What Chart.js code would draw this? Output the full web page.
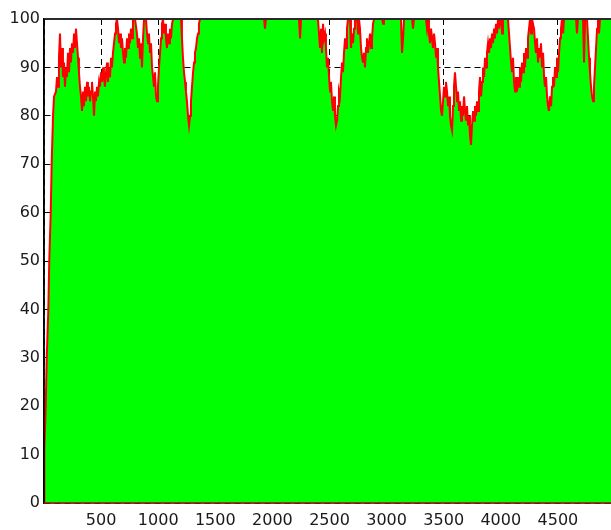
<!DOCTYPE html>
<html>
<head>
<meta charset="utf-8">
<script src="https://cdn.jsdelivr.net/npm/chart.js@4/dist/chart.umd.min.js"></script>
<style>
  html, body { margin: 0; padding: 0; background: #fff; }
  #wrap { position: relative; width: 611px; height: 530px; }
</style>
</head>
<body>
<div id="wrap"><canvas id="levelChart"></canvas></div>
<script>
// sample index (x) and level (y)
var sampleX = [
  0, 3, 15, 24, 38, 46, 59, 67, 79, 88, 105, 114, 123, 131, 140, 149, 158, 166, 175, 184,
  193, 201, 210, 219, 228, 236, 245, 254, 263, 271, 280, 289, 298, 306, 315, 324, 333, 342, 350, 359,
  368, 377, 385, 394, 403, 412, 420, 429, 438, 447, 455, 464, 473, 482, 490, 499, 508, 517, 525, 534,
  543, 552, 560, 569, 578, 587, 595, 604, 613, 622, 630, 639, 648, 657, 666, 674, 683, 692, 701, 709,
  718, 727, 736, 744, 753, 762, 771, 779, 797, 814, 823, 832, 841, 849, 858, 867, 876, 893, 902, 911,
  919, 928, 937, 946, 955, 963, 972, 981, 990, 998, 1007, 1016, 1025, 1033, 1042, 1051, 1060, 1068, 1077, 1086,
  1095, 1103, 1112, 1121, 1130,
  1200, 1208, 1217, 1226, 1235, 1243, 1252, 1261, 1270, 1279, 1287, 1296, 1305, 1314, 1322, 1331, 1340, 1349, 1357, 1366,
  1927, 1935, 1944,
  2233, 2242, 2251,
  2399, 2417, 2426, 2434, 2443, 2452, 2461, 2469, 2478, 2487, 2496, 2505, 2513, 2522, 2531, 2540, 2548, 2557, 2566, 2575,
  2583, 2592, 2601, 2610, 2618, 2627, 2636, 2645, 2653, 2662, 2680, 2688, 2697, 2706, 2715, 2723, 2741, 2750, 2758, 2767,
  2776, 2785, 2793, 2802, 2811, 2820, 2828, 2837, 2846, 2855, 2864, 2872, 2881, 2890,
  2960, 2969, 2977,
  3126, 3135, 3144, 3153,
  3223, 3231, 3240,
  3345, 3354, 3363, 3371, 3380, 3389, 3398, 3406, 3415, 3424, 3433, 3442, 3450, 3459, 3468, 3477, 3485, 3494, 3503, 3512,
  3520, 3529, 3538, 3547, 3555, 3564, 3573, 3582, 3590, 3599, 3608, 3617, 3625, 3634, 3643, 3652, 3660, 3669, 3678, 3687,
  3695, 3704, 3713, 3722, 3730, 3739, 3748, 3757, 3766, 3774, 3783, 3792, 3801, 3809, 3818, 3827, 3836, 3844, 3853, 3862,
  3871, 3879, 3888, 3897, 3906, 3914, 3923, 3932, 3941, 3949, 3958, 3967, 3976, 3984, 3993,
  4002, 4011, 4019, 4063, 4072, 4081, 4090, 4098, 4107, 4116, 4125, 4133, 4142, 4151, 4160, 4168, 4177, 4186, 4195, 4203,
  4212, 4221, 4230, 4238, 4247, 4256, 4265, 4273, 4291, 4300, 4308, 4317, 4326, 4335, 4343, 4352, 4361, 4370, 4379, 4387,
  4396, 4405, 4414, 4422, 4431, 4440, 4449, 4457, 4466, 4475, 4484, 4492, 4501, 4510, 4519, 4527, 4536, 4545, 4554,
  4659, 4667, 4676, 4720, 4729, 4738, 4755, 4764, 4773, 4781, 4790, 4799, 4808, 4816, 4825, 4834, 4843, 4851, 4860, 4869,
  4965
];
var level = [
  0, 11, 20, 30, 40, 50, 60, 70, 80, 84, 85, 88, 86, 92, 97, 90, 94, 88, 91, 86,
  90, 88, 93, 89, 94, 91, 95, 93, 97, 94, 98, 95, 92, 89, 86, 84, 81, 85, 82, 86,
  83, 87, 84, 86, 83, 85, 87, 84, 80, 85, 83, 86, 84, 87, 86, 89, 87, 90, 88, 86,
  89, 91, 87, 90, 88, 92, 90, 93, 95, 97, 99, 100, 98, 95, 97, 94, 96, 93, 91, 94,
  92, 96, 94, 97, 95, 98, 96, 100, 100, 97, 94, 96, 92, 95, 90, 96, 100, 100, 97, 95,
  97, 93, 95, 90, 88, 86, 89, 84, 83, 86, 90, 93, 96, 99, 100, 97, 99, 96, 94, 97,
  95, 98, 96, 99, 100,
  100, 96, 92, 89, 87, 85, 83, 80, 78, 80, 83, 86, 89, 91, 93, 94, 96, 97, 99, 100,
  100, 98, 100,
  100, 96, 100,
  100, 94, 98, 93, 99, 96, 97, 94, 90, 92, 88, 85, 87, 83, 81, 84, 80, 78, 79, 82,
  85, 84, 88, 91, 89, 93, 96, 94, 98, 100, 100, 94, 97, 95, 98, 100, 100, 97, 100, 98,
  94, 92, 91, 93, 90, 94, 96, 93, 95, 97, 94, 96, 99, 100,
  100, 99, 100,
  100, 93, 96, 100,
  100, 98, 100,
  100, 98, 100, 97, 95, 98, 96, 94, 97, 95, 92, 94, 90, 87, 84, 81, 80, 83, 86, 84,
  87, 85, 82, 84, 80, 78, 77, 82, 86, 89, 86, 83, 85, 81, 83, 79, 82, 80, 84, 81,
  79, 82, 78, 80, 76, 74, 78, 81, 79, 82, 80, 83, 81, 85, 88, 84, 87, 90, 88, 92,
  90, 93, 95, 93, 96, 94, 97, 95, 98, 96, 99, 97, 100, 98, 100,
  100, 97, 100, 100, 97, 94, 91, 89, 92, 87, 85, 88, 85, 88, 86, 90, 87, 91, 89, 93,
  90, 94, 92, 96, 98, 100, 97, 100, 98, 95, 93, 96, 91, 94, 92, 95, 90, 93, 88, 86,
  88, 84, 82, 81, 84, 82, 86, 88, 86, 90, 88, 92, 89, 93, 96, 98, 100, 97, 100,
  100, 97, 100, 100, 91, 100, 100, 96, 92, 89, 86, 84, 83, 86, 90, 94, 98, 100, 97, 100,
  100
];
var xMax = 4965;
var xTicks = [0, 500, 1000, 1500, 2000, 2500, 3000, 3500, 4000, 4500];
var yTicks = [0, 10, 20, 30, 40, 50, 60, 70, 80, 90, 100];

var points = sampleX.map(function (x, i) {
  return { x: x, y: level[i] };
});

// MATLAB-like box: redraw the frame over the filled area
var frameLines = {
  id: 'frameLines',
  afterDatasetsDraw: function (chart) {
    var a = chart.chartArea, c = chart.ctx;
    c.save();
    c.lineWidth = 2;
    c.strokeStyle = '#2b2b2b';
    c.beginPath();
    c.moveTo(a.left, a.top);
    c.lineTo(a.right, a.top);
    c.stroke();
    c.lineWidth = 1.5;
    c.strokeStyle = '#000';
    c.beginPath();
    c.moveTo(a.left, a.top);
    c.lineTo(a.left, a.bottom);
    c.stroke();
    c.strokeStyle = '#8e1414';
    c.beginPath();
    c.moveTo(a.left, a.bottom);
    c.lineTo(a.right, a.bottom);
    c.stroke();
    c.restore();
  }
};

var tickFont = { family: 'DejaVu Sans', size: 16 };

function useTicks(list) {
  return function (scale) {
    scale.ticks = list.map(function (v) { return { value: v }; });
  };
}

var levelChart = new Chart(document.getElementById('levelChart'), {
  type: 'line',
  data: {
    datasets: [{
      data: points,
      fill: 'origin',
      backgroundColor: '#00ff00',
      borderColor: '#ff0000',
      borderWidth: 2,
      borderJoinStyle: 'miter',
      pointRadius: 0,
      tension: 0
    }]
  },
  options: {
    responsive: true,
    maintainAspectRatio: false,
    animation: false,
    layout: { padding: { top: 19, right: 0, left: 0, bottom: 0 } },
    plugins: { legend: { display: false }, tooltip: { enabled: false } },
    scales: {
      x: {
        type: 'linear',
        min: 0,
        max: xMax,
        grid: { color: '#000', lineWidth: 1, drawTicks: false },
        border: { color: '#8e1414', width: 1.5, dash: [6, 4] },
        afterBuildTicks: useTicks(xTicks),
        ticks: {
          autoSkip: false,
          maxRotation: 0,
          padding: 8,
          color: '#1a1a1a',
          font: tickFont,
          callback: function (v) { return v === 0 ? '' : String(v); }
        },
        afterFit: function (s) { s.height = 27; }
      },
      y: {
        min: 0,
        max: 100,
        grid: { color: '#000', lineWidth: 1, drawTicks: false },
        border: { color: '#000', width: 1.5, dash: [6, 4] },
        afterBuildTicks: useTicks(yTicks),
        ticks: {
          padding: 4,
          color: '#1a1a1a',
          font: tickFont
        },
        afterFit: function (s) { s.width = 44; }
      }
    }
  },
  plugins: [frameLines]
});
</script>
</body>
</html>
